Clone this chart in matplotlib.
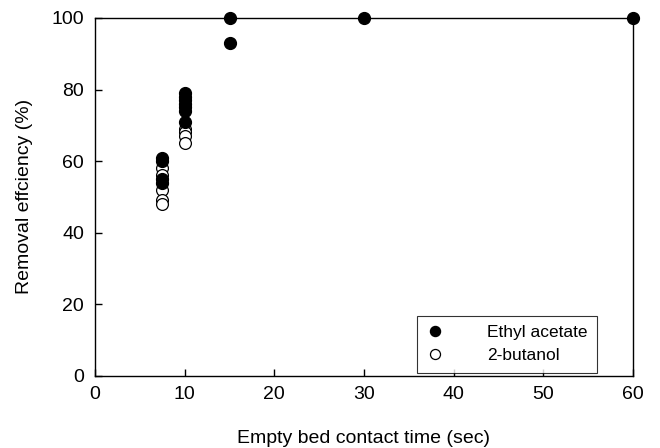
import matplotlib
matplotlib.use("Agg")
import matplotlib.pyplot as plt

plt.rcParams['font.family'] = ['Liberation Sans', 'DejaVu Sans']

# Ethyl acetate (filled)
ea_x = [7.5, 7.5, 7.5, 7.5, 10, 10, 10, 10, 10, 10, 10, 15, 15, 30, 60]
ea_y = [61, 60, 55, 54, 79, 78, 77, 76, 75, 74, 71, 100, 93, 100, 100]
# 2-butanol (open)
bu_x = [7.5, 7.5, 7.5, 7.5, 7.5, 10, 10, 10, 10]
bu_y = [58, 56, 52, 49, 48, 69, 68, 67, 65]

xticks = [0, 10, 20, 30, 40, 50, 60]
yticks = [0, 20, 40, 60, 80, 100]

fig = plt.figure(figsize=(6.6, 4.48), dpi=100)
ax = fig.add_axes([0.144, 0.161, 0.815, 0.799])

ax.plot(bu_x, bu_y, 'o', mfc='white', mec='black', mew=0.9, ms=8.5,
        label='2-butanol', clip_on=False, zorder=3)
ax.plot(ea_x, ea_y, 'o', mfc='black', mec='black', ms=8.5,
        label='Ethyl acetate', clip_on=False, zorder=4)

ax.set_xlim(0, 60)
ax.set_ylim(0, 100)
ax.set_xticks(xticks)
ax.set_yticks(yticks)
ax.tick_params(direction='in', length=5, width=1, labelsize=14)
ax.tick_params(axis='x', pad=7)
ax.tick_params(axis='y', pad=8)
for s in ax.spines.values():
    s.set_linewidth(1.0)

ax.set_xlabel('Empty bed contact time (sec)', fontsize=14, labelpad=20)
ax.set_ylabel('Removal effciency (%)', fontsize=14, labelpad=13)

h, l = ax.get_legend_handles_labels()
leg = ax.legend([h[1], h[0]], [l[1], l[0]], loc='lower right',
                bbox_to_anchor=(0.933, 0.008), fontsize=12.5, frameon=True,
                fancybox=False, edgecolor='black', markerscale=0.85,
                handlelength=1.0, handletextpad=2.5, borderpad=0.55,
                labelspacing=0.45, borderaxespad=0.0)
leg.get_frame().set_linewidth(0.8)

fig.savefig('out.png', dpi=100)
